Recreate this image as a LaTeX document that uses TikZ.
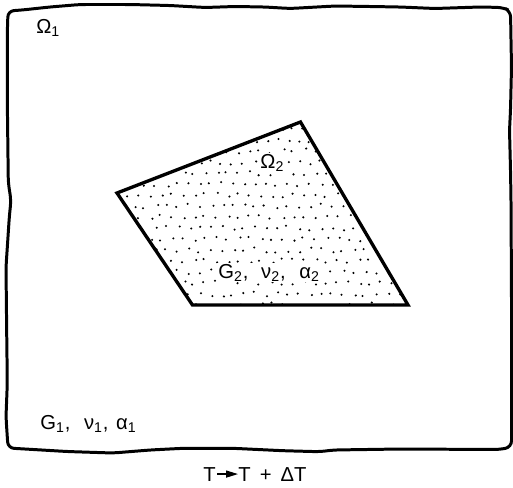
\documentclass[tikz,border=0pt]{standalone}
\usepackage{fontspec}
\setmainfont{Liberation Sans}
\usetikzlibrary{arrows.meta}

\begin{document}
\begin{tikzpicture}[
    x=0.02cm, y=-0.02cm,
    font=\fontsize{11.5}{13}\selectfont,
    frame/.style={draw=black, line width=1.7pt, rounded corners=0.12cm},
    region/.style={draw=black, line width=1.9pt, line join=miter},
    lbl/.style={inner sep=0pt, anchor=base west},
    tag/.style={lbl, fill=white, inner sep=0.6pt},
    dot/.style={fill=black},
    arrow/.style={-{Triangle[length=6.8pt, width=4pt]}, line width=0.7pt}
]
\useasboundingbox (0,0) rectangle (513,487);

% ==================== OUTER DOMAIN ====================
\draw[frame] (8,11) -- (22,10) -- (50,7) -- (80,4.5) -- (130,4.5) -- (170,5.5)
  -- (205,7.5) -- (235,6.5) -- (265,7) -- (290,8.5) -- (335,6) -- (370,6.5)
  -- (400,7) -- (435,8.5) -- (480,7) -- (503,7.5) -- (510.5,11)
  -- (511,40) -- (511.5,67) -- (510.5,110) -- (509.5,130) -- (510.5,170)
  -- (511,200) -- (511.5,300) -- (511.5,447)
  -- (500,449.5) -- (400,449) -- (333,450) -- (320,451.7) -- (283,450.7)
  -- (233,448.3) -- (183,448.3) -- (150,450) -- (113,453) -- (67,451.5)
  -- (25,449) -- (8,448)
  -- (6,417) -- (7.3,383) -- (6.7,333) -- (6,267) -- (9.3,217) -- (11,200)
  -- (8.3,183) -- (7.3,100) -- (7.3,33) -- cycle;

\node[lbl] (omega1) at (36,33) {Ω\textsubscript{1}};
\node[lbl] (props1) at (40,429) {G\textsubscript{1},\hspace{0.4em} ν\textsubscript{1},\hspace{0.1em} α\textsubscript{1}};

% ==================== INCLUSION ====================
\coordinate (q1) at (117,193);
\coordinate (q2) at (300.5,122);
\coordinate (q3) at (408,305);
\coordinate (q4) at (192.5,305);

% stipple
\pgfmathsetseed{7}
\begin{scope}
  \clip (q1) -- (q2) -- (q3) -- (q4) -- cycle;
  \foreach \j in {0,...,18} {
    \foreach \i in {0,...,28} {
      \pgfmathsetmacro\px{112 + 11*\i + 5.5*mod(\j,2) + 2.5*rand}
      \pgfmathsetmacro\py{118 + 11*\j + 2.5*rand}
      \fill[dot] (\px,\py) circle[radius=1.15];
    }
  }
\end{scope}

\node[tag] (omega2) at (259,168) {Ω\textsubscript{2}};
\node[tag] (props2) at (217,278) {G\textsubscript{2},\hspace{0.35em} ν\textsubscript{2},\hspace{0.4em} α\textsubscript{2}};

\draw[region] (q1) -- (q2) -- (q3) -- (q4) -- cycle;

% ==================== LOAD ====================
\node[lbl] (told) at (203,481) {T};
\node[lbl] (tnew) at (238,481) {T\hspace{0.45em}+\hspace{0.45em}ΔT};
\draw[arrow] ([xshift=0.8pt]told.east) -- (tnew.west);

\end{tikzpicture}
\end{document}
